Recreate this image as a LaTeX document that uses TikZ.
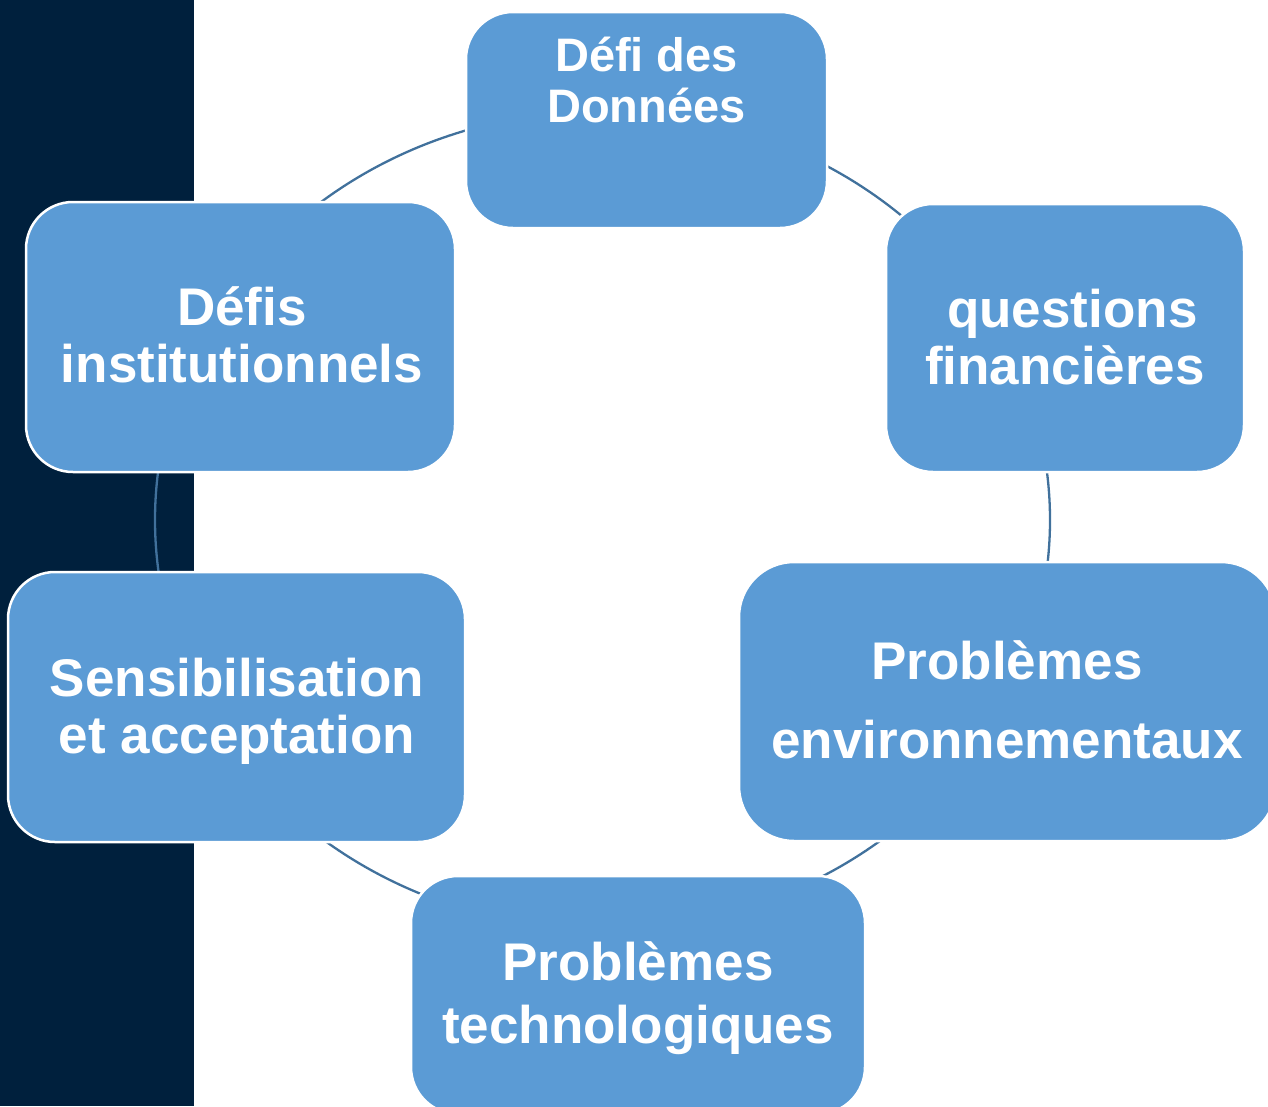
\documentclass[tikz,border=0pt]{standalone}
\usepackage{fontspec}
\setmainfont{Liberation Sans}
\definecolor{bandnavy}{HTML}{00203D}
\definecolor{boxblue}{HTML}{5B9BD5}
\definecolor{arcblue}{HTML}{41719C}
\tikzset{
  box/.style={draw=white, line width=2.5pt, fill=boxblue, rounded corners=47pt, inner sep=0pt},
  lbl/.style={text=white, font=\bfseries\fontsize{53}{57}\selectfont, anchor=base, inner sep=0pt},
  lblsmall/.style={lbl, font=\bfseries\fontsize{47}{50}\selectfont},
  cyc/.style={draw=arcblue, line width=2.3pt}
}
\begin{document}
\begin{tikzpicture}[x=1pt,y=-1pt]
\useasboundingbox (0,0) rectangle (1268,1106);
\clip (0,0) rectangle (1268,1106);
\fill[bandnavy] (0,0) rectangle (194,1106);
% cycle connector
\draw[cyc] (602.5,520) ellipse [x radius=447.5pt, y radius=409pt];
% boxes
\node[box, minimum width=361pt, minimum height=216pt] (b1) at (646.5,120) {};
\node[box, minimum width=358pt, minimum height=268pt] (b2) at (1065,338) {};
\node[box, rounded corners=55pt, minimum width=537pt, minimum height=279pt] (b3) at (1007.5,701.5) {};
\node[box, minimum width=454pt, minimum height=238pt] (b4) at (638,995) {};
\node[box, minimum width=457pt, minimum height=270pt] (b5) at (236.5,707) {};
\node[box, minimum width=429pt, minimum height=270pt] (b6) at (240.5,337) {};
% texts
\node[lblsmall] (t1a) at (646.5,71) {Défi des};
\node[lblsmall] (t1b) at (646.5,122) {Données};
\node[lbl] (t2a) at (1065,327) {\hspace*{0.278em}questions};
\node[lbl] (t2b) at (1065,384) {financières};
\node[lbl] (t3a) at (1007,679) {Problèmes};
\node[lbl] (t3b) at (1007,758) {environnementaux};
\node[lbl] (t4a) at (638,980) {Problèmes};
\node[lbl] (t4b) at (638,1043) {technologiques};
\node[lbl] (t5a) at (237,696) {Sensibilisation};
\node[lbl] (t5b) at (237,753) {et acceptation};
\node[lbl] (t6a) at (242,325) {Défis};
\node[lbl] (t6b) at (242,382) {institutionnels};
\end{tikzpicture}
\end{document}
